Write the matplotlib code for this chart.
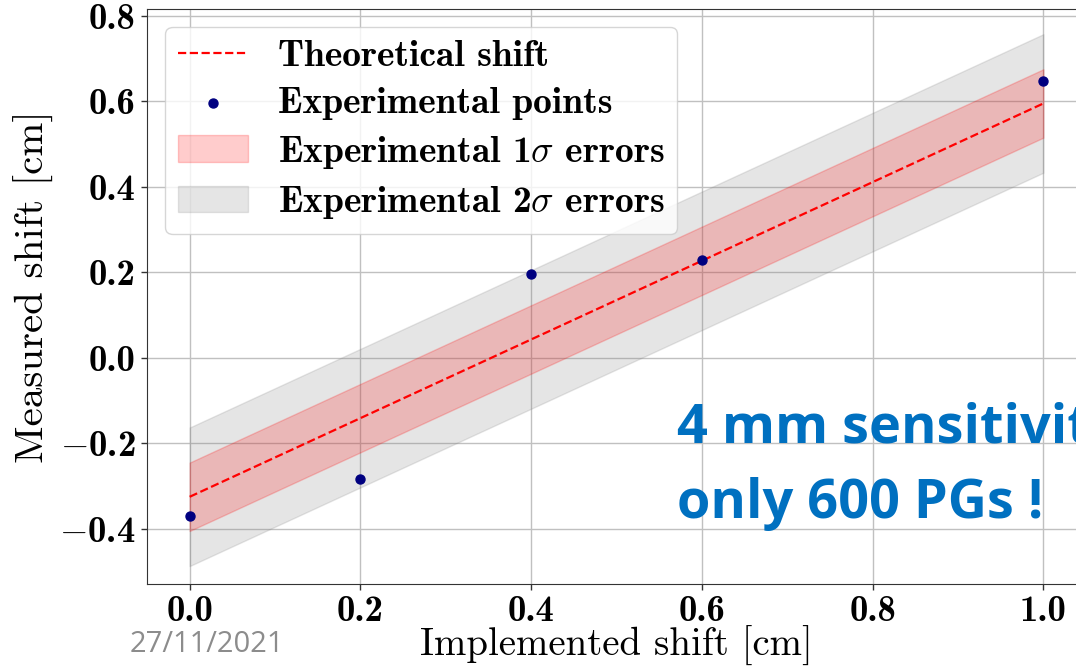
import numpy as np
import matplotlib
matplotlib.use('Agg')
import matplotlib.pyplot as plt

plt.rcParams['mathtext.fontset'] = 'cm'
plt.rcParams['font.family'] = 'cmb10'
plt.rcParams['axes.unicode_minus'] = False

# data
implemented = [0.0, 0.2, 0.4, 0.6, 1.0]
measured = [-0.371, -0.284, 0.197, 0.228, 0.648]

# theoretical line and error widths
fit_x = [0.0, 1.0]
fit_y = [-0.325, 0.595]
sigma1 = 0.08
sigma2 = 0.162

xticks = [0.0, 0.2, 0.4, 0.6, 0.8, 1.0]
yticks = [-0.4, -0.2, 0.0, 0.2, 0.4, 0.6, 0.8]

fig = plt.figure(figsize=(10.76, 6.66), dpi=100)
ax = fig.add_axes([0.1366, 0.1231, 0.8727, 0.8634])

fx = np.array(fit_x)
fy = np.array(fit_y)

ax.plot(fx, fy, 'r--', lw=1.6, label='Theoretical shift', zorder=4)
ax.scatter(implemented, measured, s=42, color='navy', zorder=5,
           label='Experimental points')
ax.fill_between(fx, fy - sigma1, fy + sigma1, color='red', alpha=0.2, zorder=3,
                label=r'Experimental 1$\sigma$ errors')
ax.fill_between(fx, fy - sigma2, fy + sigma2, color='gray', alpha=0.2, zorder=2,
                label=r'Experimental 2$\sigma$ errors')

ax.set_xlim(-0.05, 1.05)
ax.set_ylim(-0.529, 0.816)
ax.set_xticks(xticks)
ax.set_yticks(yticks)
ax.set_xticklabels(['%.1f' % t for t in xticks], fontsize=26.5)
ax.set_yticklabels(['%.1f' % t if t >= 0 else r'$-$%.1f' % -t
                    for t in yticks], fontsize=26.5)
ax.grid(True, color='#c0c0c0', lw=1.0, zorder=0)
ax.set_axisbelow(True)
for s in ax.spines.values():
    s.set_color('#333333')
ax.tick_params(length=4, width=1, color='#333333', pad=4)

ax.set_xlabel('Implemented shift [cm]', fontsize=28, family='cmr10', labelpad=-1.5)
ax.set_ylabel('Measured shift [cm]', fontsize=29.5, family='cmr10')
ax.yaxis.set_label_coords(-0.0995, 0.518)

handles, labels = ax.get_legend_handles_labels()
ax.legend(handles, labels, loc='upper left', fontsize=27, framealpha=0.8,
          borderpad=0.35, handlelength=1.85, labelspacing=0.36, handletextpad=0.8,
          borderaxespad=0, bbox_to_anchor=(0.0192, 0.9687))

fig.text(677 / 1076, 1 - 443 / 666, '4 mm sensitivity', color='#0070C0',
         fontsize=39, fontweight='bold', family='Open Sans', va='baseline')
fig.text(677 / 1076, 1 - 518 / 666, 'only 600 PGs !', color='#0070C0',
         fontsize=39, fontweight='bold', family='Open Sans', va='baseline')
fig.text(130 / 1076, 1 - 652 / 666, '27/11/2021', color='#8c8c8c',
         fontsize=21, family='Open Sans', va='baseline')

fig.savefig('out.png', dpi=100)
